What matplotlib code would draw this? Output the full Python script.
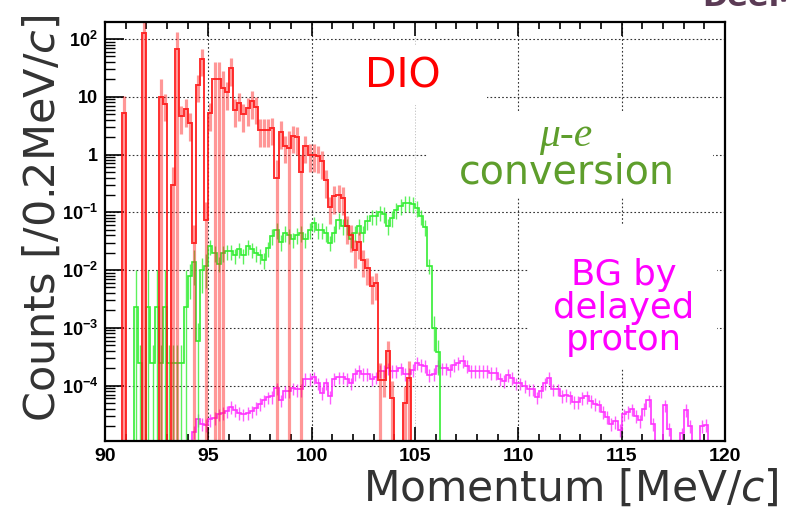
import numpy as np
import matplotlib
matplotlib.use("Agg")
import matplotlib.pyplot as plt
from matplotlib.patches import Rectangle
from matplotlib.ticker import FixedLocator, FixedFormatter, MultipleLocator, LogLocator, NullFormatter

plt.rcParams["mathtext.fontset"] = "custom"
plt.rcParams["mathtext.bf"] = "Liberation Sans:bold"
plt.rcParams["mathtext.rm"] = "Liberation Sans"
plt.rcParams["mathtext.it"] = "DejaVu Sans:italic"

# -------------------------
# Data: counts per 0.2 MeV/c bin, 90 -> 120 MeV/c (150 bins)
# -------------------------
bin_edges = np.round(np.linspace(90.0, 120.0, 151), 1)

dio_counts = [
    # 90 - 95
    0, 0, 0, 0, 5.2, 0, 0, 0, 0, 125, 0, 0, 0, 10, 7.5, 0, 0.3, 66, 4.6, 6.1, 3.5, 0.03, 16, 45, 0.075,
    # 95 - 100
    5.2, 20, 20, 14, 12, 31, 6.0, 7.7, 5.0, 6.3, 8.3, 6.7, 2.7, 2.7, 2.7, 2.9, 0.4, 2.5, 1.4, 1.3, 2.1, 2.0, 0.5, 1.4, 1.0,
    # 100 - 105
    1.0, 0.95, 0.76, 0.36, 0.125, 0.19, 0.2, 0.18, 0.057, 0.041, 0.022, 0.031, 0.015, 0.011, 0.0052, 0.006,
    1.25e-4, 1.25e-4, 4e-4, 6e-5, 0, 0, 5e-5, 1.35e-4, 0,
    # 105 - 120
] + [0] * 75

mue_counts = [
    # 90 - 95
    0, 0, 0, 0, 0, 0, 0, 2.3e-3, 2.5e-4, 0, 2.3e-3, 2.5e-4, 2.3e-3, 2.5e-4, 2.3e-3, 2.5e-4, 2.5e-4, 2.5e-4, 2.5e-4,
    2.3e-3, 0.008, 0.014, 6e-4, 0.01, 0.012,
    # 95 - 100
    0.026, 0.02, 0.013, 0.02, 0.021, 0.021, 0.018, 0.023, 0.018, 0.026, 0.023, 0.02, 0.018, 0.015, 0.024, 0.039,
    0.05, 0.031, 0.044, 0.04, 0.034, 0.041, 0.044, 0.034, 0.05,
    # 100 - 105
    0.065, 0.05, 0.05, 0.044, 0.03, 0.044, 0.074, 0.058, 0.058, 0.035, 0.044, 0.058, 0.044, 0.07, 0.085, 0.085,
    0.1, 0.095, 0.058, 0.08, 0.11, 0.13, 0.145, 0.145, 0.14,
    # 105 - 110
    0.12, 0.085, 0.056, 0.012, 1.0e-3, 3.8e-4, 0, 0, 0, 0, 0, 0, 0, 0, 0, 0, 0, 0, 0, 0, 0, 0, 0, 0, 0,
] + [0] * 50

bgp_counts = [
    # 90 - 95
    0, 0, 0, 0, 0, 0, 0, 0, 0, 0, 0, 0, 0, 0, 0, 0, 0, 0, 0, 0, 0, 1.6e-5, 2.6e-5, 2.2e-5, 2.1e-5,
    # 95 - 100
    2.6e-5, 2.8e-5, 3.2e-5, 3.4e-5, 3.6e-5, 4.3e-5, 3.8e-5, 3.4e-5, 3.2e-5, 3.4e-5, 3.6e-5, 4.1e-5, 4.8e-5,
    5.6e-5, 6.3e-5, 6.5e-5, 9e-5, 5.6e-5, 8e-5, 8e-5, 9e-5, 8.6e-5, 8.6e-5, 1.3e-4, 1.3e-4,
    # 100 - 105
    1.4e-4, 1.1e-4, 7.5e-5, 1.1e-4, 6.5e-5, 1.3e-4, 1.4e-4, 1.4e-4, 1.3e-4, 1.1e-4, 1.6e-4, 1.8e-4, 1.6e-4,
    1.6e-4, 1.3e-4, 1.4e-4, 1.8e-4, 1.8e-4, 2.0e-4, 1.8e-4, 1.8e-4, 2.0e-4, 1.6e-4, 1.6e-4, 1.9e-4,
    # 105 - 110
    2.5e-4, 2.3e-4, 2.2e-4, 1.55e-4, 1.6e-4, 2.2e-4, 2.0e-4, 2.0e-4, 1.9e-4, 2.3e-4, 2.5e-4, 2.7e-4, 2.2e-4,
    1.8e-4, 1.8e-4, 1.8e-4, 1.8e-4, 1.8e-4, 1.65e-4, 1.65e-4, 1.3e-4, 1.2e-4, 1.55e-4, 1.35e-4, 1.1e-4,
    # 110 - 115
    1.1e-4, 1.0e-4, 8.7e-5, 8.7e-5, 6.3e-5, 8e-5, 1.1e-4, 1.35e-4, 8.7e-5, 8.7e-5, 6.7e-5, 7e-5, 6.5e-5,
    5.3e-5, 5.3e-5, 6.2e-5, 6.5e-5, 5.5e-5, 4.8e-5, 4.6e-5, 3.5e-5, 2.9e-5, 2.2e-5, 2.4e-5, 1.7e-5,
    # 115 - 120
    3.2e-5, 3.5e-5, 3.9e-5, 3.0e-5, 2.5e-5, 4.0e-5, 5.6e-5, 2.2e-5, 0, 0, 4.6e-5, 1.8e-5, 0, 0, 1.5e-5,
    3.8e-5, 2e-5, 0, 0, 2e-5, 2.1e-5, 0, 0, 0, 0,
]

# relative errors (default per series, plus bins read with much larger bars)
dio_rel_err = 0.5
dio_big_err_bins = [4, 9, 13, 16, 17, 21, 24, 26, 27, 28, 41, 44, 47, 66, 69, 72, 73]
mue_rel_err = 0.3
mue_err_overrides = {7: 3.3, 10: 3.3, 12: 3.3, 14: 3.3, 19: 3.3, 8: 1.0, 11: 1.0, 13: 1.0, 15: 1.0,
                     16: 1.0, 17: 1.0, 18: 1.0, 22: 1.0, 20: 0.6, 21: 0.6, 23: 0.6, 24: 0.6, 79: 0.6, 80: 0.6}
bgp_rel_err = 0.25

x_ticks = [90, 95, 100, 105, 110, 115, 120]
y_ticks = [1e-4, 1e-3, 1e-2, 1e-1, 1, 10, 100]
y_tick_labels = [r"$\mathbf{10^{-4}}$", r"$\mathbf{10^{-3}}$", r"$\mathbf{10^{-2}}$", r"$\mathbf{10^{-1}}$",
                 "1", "10", r"$\mathbf{10^{2}}$"]

y_min, y_max = 1.1e-5, 197

W, H = 788, 509


def fx(px):
    return px / W


def fy(py):
    return 1 - py / H


fig = plt.figure(figsize=(W / 100, H / 100), dpi=100)
ax = fig.add_axes([fx(105), fy(441), 620 / W, 419 / H])
ax.set_yscale("log")
ax.set_xlim(90, 120)
ax.set_ylim(y_min, y_max)

centers = 0.5 * (bin_edges[:-1] + bin_edges[1:])


def draw_hist(counts, rel_err, color, lw, err_lw, err_alpha, z, line_alpha=1.0):
    v = np.asarray(counts, dtype=float)
    shown = np.where(v > 0, v, y_min)   # empty bins sit on the bottom edge
    ax.stairs(shown, bin_edges, baseline=None, color=color, lw=lw, alpha=line_alpha, zorder=z)
    m = v > 0
    lo = np.where(rel_err < 1, v * (1 - rel_err), y_min)
    hi = v * (1 + rel_err)
    ax.vlines(centers[m], lo[m], hi[m], color=color, lw=err_lw, alpha=err_alpha, zorder=z)


dio_err = np.full(150, dio_rel_err)
dio_err[dio_big_err_bins] = 1.0
mue_err = np.full(150, mue_rel_err)
for b, e in mue_err_overrides.items():
    mue_err[b] = e
bgp_err = np.full(150, bgp_rel_err)

# grid (drawn first, partly hidden by the label boxes)
grid_kw = dict(color="#333333", lw=0.8, linestyle=(0, (1.5, 2.0)), zorder=1)
for y in y_ticks:
    ax.axhline(y, **grid_kw)
for x in [95, 100, 110, 115]:
    ax.axvline(x, **grid_kw)
ax.axvline(105, color="#bbbbbb", lw=0.6, linestyle=(0, (1.5, 2.0)), zorder=1)

# white boxes behind the labels
for (x0, y0, w, h) in [(318, 45, 169, 60), (428, 112, 285, 86), (528, 225, 189, 143)]:
    ax.add_patch(Rectangle(((x0 - 105) / 620, (441 - y0 - h) / 419), w / 620, h / 419,
                           transform=ax.transAxes, facecolor="white", edgecolor="none", zorder=1.5))

draw_hist(bgp_counts, bgp_err, "#ff33ff", 1.2, 1.0, 0.8, 3)
draw_hist(mue_counts, mue_err, "#33ee33", 1.2, 1.0, 0.8, 4)
draw_hist(dio_counts, dio_err, "#ff1a1a", 1.4, 2.3, 0.45, 5, line_alpha=0.9)

# axes style, ROOT-like
for s in ax.spines.values():
    s.set_linewidth(1.6)
    s.set_zorder(10)
ax.xaxis.set_major_locator(FixedLocator(x_ticks))
ax.xaxis.set_minor_locator(MultipleLocator(1))
ax.yaxis.set_major_locator(FixedLocator(y_ticks))
ax.yaxis.set_major_formatter(FixedFormatter(y_tick_labels))
ax.yaxis.set_minor_locator(LogLocator(base=10, subs=np.arange(2, 10)))
ax.yaxis.set_minor_formatter(NullFormatter())
ax.tick_params(axis="x", which="both", direction="in", top=True, bottom=True, pad=5)
ax.tick_params(axis="y", which="both", direction="in", left=True, right=False, pad=5)
ax.tick_params(axis="x", which="major", length=10, width=1.2)
ax.tick_params(axis="x", which="minor", length=5, width=1.2)
ax.tick_params(axis="y", which="major", length=14, width=1.2)
ax.tick_params(axis="y", which="minor", length=7, width=1.0)
for lab in ax.get_xticklabels():
    lab.set_fontfamily("Liberation Sans")
    lab.set_fontweight("bold")
    lab.set_fontsize(14)
for lab in ax.get_yticklabels():
    lab.set_fontfamily("Liberation Sans")
    lab.set_fontweight("bold")
    lab.set_fontsize(13)

# axis titles
fig.text(fx(571), fy(501), "Momentum [MeV/$c$]", ha="center", va="baseline",
         fontsize=30.5, color="#333333", family="DejaVu Sans")
fig.text(fx(43), fy(218), "Counts [/0.2MeV/$c$]", ha="center", va="center", rotation=90,
         fontsize=31, color="#333333", family="DejaVu Sans")

# in-plot labels
fig.text(fx(403), fy(88), "DIO", ha="center", va="baseline", fontsize=29.5, color="#ff0000",
         family="DejaVu Sans")
fig.text(fx(566), fy(146), "\u03bc-e", ha="center", va="baseline", fontsize=30, color="#5e9e2c",
         family="Liberation Serif", style="italic")
fig.text(fx(567), fy(183), "conversion", ha="center", va="baseline", fontsize=28.5, color="#5e9e2c",
         family="DejaVu Sans")
# multi-line text: baseline alignment refers to the last line
fig.text(fx(624), fy(350), "BG by\ndelayed\nproton", ha="center", va="baseline", multialignment="center",
         linespacing=0.94, fontsize=25.5, color="#ff00ff", family="DejaVu Sans")

# cut-off slide header at top right
fig.text(fx(702), fy(6), "DeeMe", ha="left", va="baseline", fontsize=22, fontweight="bold",
         color="#5b3b55", family="DejaVu Sans")

fig.savefig("out.png", dpi=100)
